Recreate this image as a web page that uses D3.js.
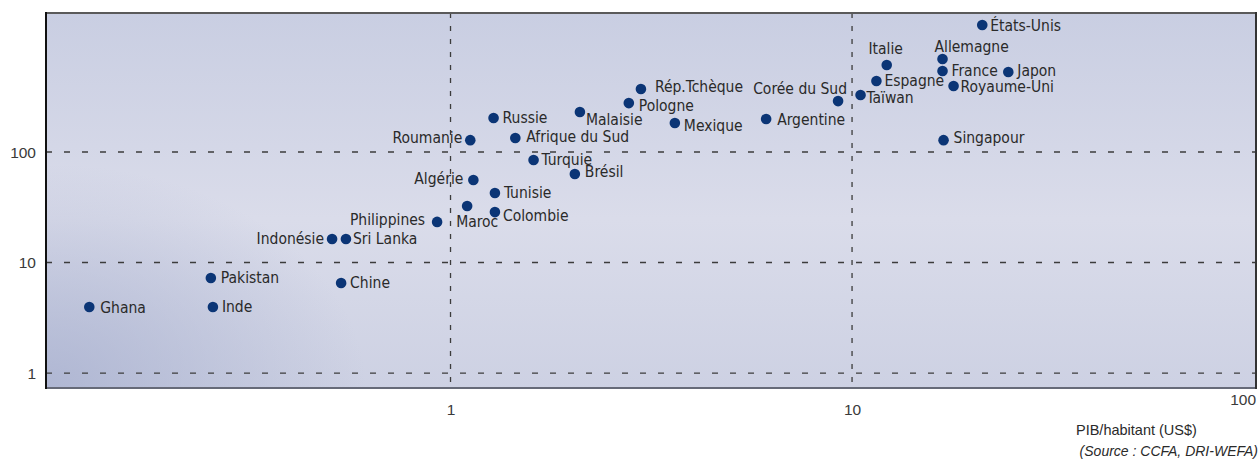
<!DOCTYPE html>
<html>
<head>
<meta charset="utf-8">
<script src="https://cdn.jsdelivr.net/npm/d3@7"></script>
<style>
  body { margin: 0; background: #fff; }
  svg { display: block; }
  .lbl { font-family: "Liberation Sans Narrow", "Arial Narrow", "DejaVu Sans Condensed", sans-serif; font-size: 15.5px; fill: #2a2a2a; }
</style>
</head>
<body>
<svg id="chart"></svg>
<script>
// pays, PIB/habitant (x) et valeur (y)
const countries = ['Ghana', 'Pakistan', 'Inde', 'Chine', 'Indonésie', 'Sri Lanka', 'Philippines',
  'Maroc', 'Colombie', 'Tunisie', 'Algérie', 'Brésil', 'Turquie', 'Roumanie', 'Afrique du Sud',
  'Russie', 'Malaisie', 'Pologne', 'Rép.Tchèque', 'Mexique', 'Argentine', 'Corée du Sud',
  'Taïwan', 'Espagne', 'Italie', 'Allemagne', 'France', 'Japon', 'Royaume-Uni', 'Singapour', 'États-Unis'];
const gdpValues = [0.126, 0.253, 0.256, 0.534, 0.507, 0.549, 0.926,
  1.10, 1.29, 1.29, 1.14, 2.04, 1.61, 1.12, 1.45,
  1.28, 2.10, 2.78, 2.98, 3.62, 6.11, 9.23,
  10.5, 11.5, 12.2, 16.8, 16.8, 24.5, 17.9, 16.9, 21.1];
const yValues = [3.96, 7.24, 3.96, 6.52, 16.3, 16.3, 23.3,
  32.5, 28.6, 42.6, 55.8, 63.2, 84.7, 128, 134,
  203, 230, 277, 372, 183, 199, 289,
  328, 439, 613, 694, 541, 530, 396, 128, 1410];
const xTicks = [1, 10, 100];
const yTicks = [1, 10, 100];
const xTitle = 'PIB/habitant (US$)';
const sourceText = '(Source : CCFA, DRI-WEFA)';

// placement des étiquettes : [dx, dy, ancrage]
const labelPlacement = [
  [11, 1, 'start'], [10, 0, 'start'], [9, 0, 'start'], [9, 0, 'start'], [-8, 0, 'end'], [7, 0, 'start'], [-12, -2, 'end'],
  [-11, 16, 'start'], [8, 3, 'start'], [9, 0, 'start'], [-10, -1, 'end'], [10, -2, 'start'], [8, 0, 'start'], [-8, -3, 'end'], [11, -1, 'start'],
  [9, 0, 'start'], [6, 8, 'start'], [10, 2, 'start'], [14, -2, 'start'], [9, 3, 'start'], [11, 1, 'start'], [9, -13, 'end'],
  [6, 3, 'start'], [8, 0, 'start'], [-1, -16, 'middle'], [-8, -12, 'start'], [9, 0, 'start'], [9, -1, 'start'], [7, 1, 'start'], [10, -3, 'start'], [8, 1, 'start']
];

const width = 1260, height = 459;
const mLeft = 46, mRight = 1256, mTop = 13, mBottom = 388;

const svg = d3.select('#chart').attr('width', width).attr('height', height);

const x = d3.scaleLog().domain([0.0983, 101.4]).range([mLeft, mRight]);
const y = d3.scaleLog().domain([0.732, 1811]).range([mBottom, mTop]);

// fond dégradé : bande claire au centre, coin bas-gauche plus sombre
const defs = svg.append('defs');
const lin = defs.append('linearGradient').attr('id', 'bgLin')
  .attr('x1', 0).attr('y1', 0).attr('x2', 0).attr('y2', 1);
lin.append('stop').attr('offset', '0%').attr('stop-color', '#c9cee2');
lin.append('stop').attr('offset', '55%').attr('stop-color', '#dadcea');
lin.append('stop').attr('offset', '100%').attr('stop-color', '#cdd1e3');

const corner = defs.append('radialGradient').attr('id', 'bgCorner')
  .attr('gradientUnits', 'userSpaceOnUse')
  .attr('cx', mLeft).attr('cy', mBottom).attr('r', 320)
  .attr('gradientTransform', 'translate(' + mLeft + ',' + mBottom + ') scale(1,0.7) translate(' + (-mLeft) + ',' + (-mBottom) + ')');
corner.append('stop').attr('offset', '0%').attr('stop-color', '#aab2d0').attr('stop-opacity', 0.85);
corner.append('stop').attr('offset', '100%').attr('stop-color', '#aab2d0').attr('stop-opacity', 0);

svg.append('rect')
  .attr('x', mLeft).attr('y', mTop)
  .attr('width', mRight - mLeft).attr('height', mBottom - mTop)
  .attr('fill', 'url(#bgLin)');
svg.append('rect')
  .attr('x', mLeft).attr('y', mTop)
  .attr('width', mRight - mLeft).attr('height', mBottom - mTop)
  .attr('fill', 'url(#bgCorner)');

// grille pointillée
const grid = svg.append('g').attr('stroke', '#3c3c3c').attr('stroke-width', 1.3);
grid.selectAll('line.h').data(yTicks).enter().append('line')
  .attr('x1', mLeft).attr('x2', mRight)
  .attr('y1', d => y(d)).attr('y2', d => y(d))
  .attr('stroke-dasharray', '6,12');
grid.selectAll('line.v').data(xTicks.filter(d => x(d) < mRight - 5)).enter().append('line')
  .attr('x1', d => x(d)).attr('x2', d => x(d))
  .attr('y1', mTop).attr('y2', mBottom)
  .attr('stroke-dasharray', '5,8');

// cadre
svg.append('line').attr('x1', mLeft).attr('x2', mRight).attr('y1', mTop).attr('y2', mTop)
  .attr('stroke', '#5a5a5a').attr('stroke-width', 2);
svg.append('line').attr('x1', mLeft).attr('x2', mRight).attr('y1', mBottom).attr('y2', mBottom)
  .attr('stroke', '#666a78').attr('stroke-width', 2);
svg.append('line').attr('x1', mLeft).attr('x2', mLeft).attr('y1', mTop - 1).attr('y2', mBottom + 1)
  .attr('stroke', '#111').attr('stroke-width', 2);
svg.append('line').attr('x1', mRight).attr('x2', mRight).attr('y1', mTop - 1).attr('y2', mBottom + 1)
  .attr('stroke', '#333').attr('stroke-width', 2);

// axes
const yAxis = svg.append('g')
  .attr('transform', 'translate(' + (mLeft - 10) + ',0)')
  .call(d3.axisLeft(y).tickValues(yTicks).tickSize(0).tickFormat(d3.format('d')));
yAxis.select('.domain').remove();
yAxis.selectAll('text').attr('x', 0).attr('dy', '0.35em');

const xAxis = svg.append('g')
  .attr('transform', 'translate(0,' + (mBottom + 13) + ')')
  .call(d3.axisBottom(x).tickValues(xTicks).tickSize(0).tickFormat(d3.format('d')));
xAxis.select('.domain').remove();
xAxis.selectAll('text').attr('dy', '0.71em')
  .filter(d => d === 100)
  .attr('text-anchor', 'end').attr('x', 2).attr('y', -7);

svg.selectAll('.tick text')
  .style('font-family', '"Liberation Sans", Arial, sans-serif')
  .style('font-size', '15.5px').style('fill', '#3a3a3a');

svg.append('text')
  .attr('x', 1076).attr('y', 435)
  .style('font-family', '"Liberation Sans", Arial, sans-serif')
  .style('font-size', '14.5px').style('fill', '#2a2a2a')
  .text(xTitle);
svg.append('text')
  .attr('x', 1258).attr('y', 456).attr('text-anchor', 'end')
  .style('font-family', '"Liberation Sans", Arial, sans-serif')
  .style('font-size', '14px').style('font-style', 'italic').style('fill', '#2a2a2a')
  .text(sourceText);

// points
const data = countries.map((c, i) => ({ name: c, gdp: gdpValues[i], val: yValues[i], pos: labelPlacement[i] }));

const pts = svg.append('g').selectAll('g').data(data).enter().append('g');

pts.append('circle')
  .attr('cx', d => x(d.gdp))
  .attr('cy', d => y(d.val))
  .attr('r', 5.3)
  .attr('fill', '#0b3576');

pts.append('text')
  .attr('class', 'lbl')
  .attr('x', d => x(d.gdp) + d.pos[0])
  .attr('y', d => y(d.val) + d.pos[1])
  .attr('dy', '0.35em')
  .attr('text-anchor', d => d.pos[2])
  .text(d => d.name);
</script>
</body>
</html>
